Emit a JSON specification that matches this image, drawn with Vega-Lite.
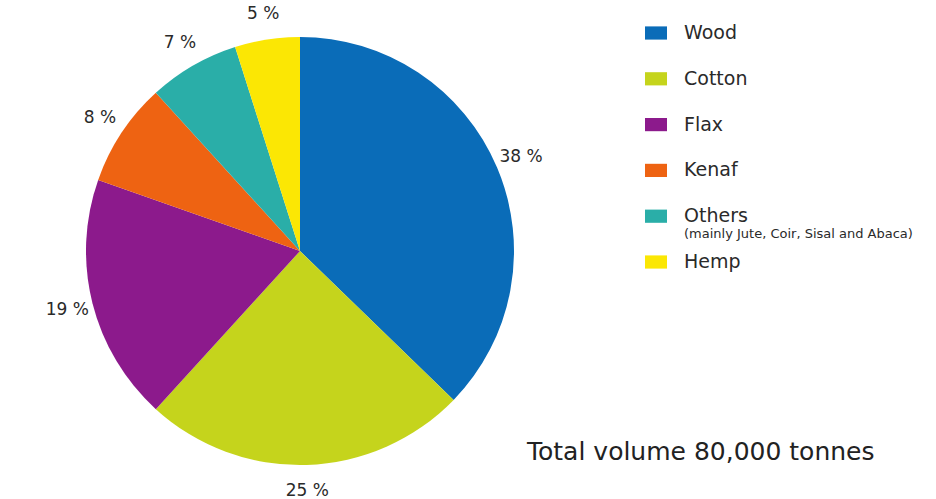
{
  "$schema": "https://vega.github.io/schema/vega-lite/v6.json",
  "padding": 0,
  "background": "white",
  "spacing": 0,
  "bounds": "flush",
  "config": {"view": {"stroke": null}, "font": "DejaVu Sans"},
  "data": {
    "values": [
      {"fiber": "Wood", "share": 38, "idx": 1, "pct": "38 %", "note": ""},
      {"fiber": "Cotton", "share": 25, "idx": 2, "pct": "25 %", "note": ""},
      {"fiber": "Flax", "share": 19, "idx": 3, "pct": "19 %", "note": ""},
      {"fiber": "Kenaf", "share": 8, "idx": 4, "pct": "8 %", "note": ""},
      {"fiber": "Others", "share": 7, "idx": 5, "pct": "7 %", "note": "(mainly Jute, Coir, Sisal and Abaca)"},
      {"fiber": "Hemp", "share": 5, "idx": 6, "pct": "5 %", "note": ""}
    ]
  },
  "hconcat": [
    {
      "width": 600,
      "height": 502,
      "layer": [
        {
          "mark": {"type": "arc", "outerRadius": 214},
          "encoding": {
            "theta": {"field": "share", "type": "quantitative", "stack": true},
            "order": {"field": "idx", "type": "quantitative"},
            "color": {
              "field": "fiber",
              "type": "nominal",
              "scale": {
                "domain": ["Wood", "Cotton", "Flax", "Kenaf", "Others", "Hemp"],
                "range": ["#0a6cb8", "#c5d41c", "#8c1a8c", "#ee6312", "#2aaea8", "#fbe704"]
              },
              "legend": null
            }
          }
        },
        {
          "mark": {"type": "text", "radius": 240, "fontSize": 17, "color": "#2a2a2a"},
          "encoding": {
            "theta": {"field": "share", "type": "quantitative", "stack": true},
            "order": {"field": "idx", "type": "quantitative"},
            "text": {"field": "pct", "type": "nominal"}
          }
        }
      ]
    },
    {
      "width": 336,
      "height": 440,
      "title": {
        "text": "Total volume 80,000 tonnes",
        "orient": "bottom",
        "anchor": "start",
        "dx": -73,
        "offset": 0,
        "fontSize": 25,
        "fontWeight": "normal",
        "color": "#222222",
        "font": "DejaVu Sans"
      },
      "layer": [
        {
          "mark": {"type": "point", "shape": "M-1,-0.6H1V0.6H-1Z", "size": 484, "filled": true, "opacity": 1, "x": 56},
          "encoding": {
            "y": {
              "field": "fiber",
              "type": "nominal",
              "scale": {"type": "point", "domain": ["Wood", "Cotton", "Flax", "Kenaf", "Others", "Hemp"], "range": [33, 262], "padding": 0},
              "axis": null
            },
            "color": {"field": "fiber", "type": "nominal", "legend": null}
          }
        },
        {
          "mark": {"type": "text", "align": "left", "baseline": "middle", "x": 84, "fontSize": 19, "color": "#2a2a2a"},
          "encoding": {
            "y": {"field": "fiber", "type": "nominal", "axis": null},
            "text": {"field": "fiber", "type": "nominal"}
          }
        },
        {
          "mark": {"type": "text", "align": "left", "baseline": "middle", "x": 84, "dy": 18, "fontSize": 13, "color": "#2a2a2a"},
          "encoding": {
            "y": {"field": "fiber", "type": "nominal", "axis": null},
            "text": {"field": "note", "type": "nominal"}
          }
        }
      ]
    }
  ]
}
